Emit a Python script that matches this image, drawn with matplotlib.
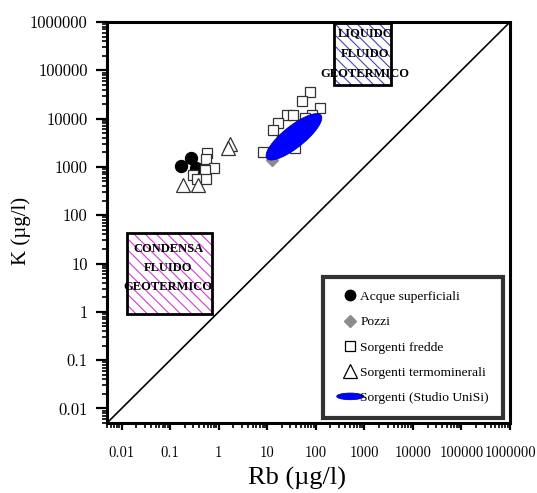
import numpy as np
import matplotlib
matplotlib.use("Agg")
import matplotlib.pyplot as plt
import matplotlib.patches as mpatches
from matplotlib.lines import Line2D
from matplotlib.legend_handler import HandlerPatch
from matplotlib.ticker import LogLocator, NullFormatter

plt.rcParams["hatch.linewidth"] = 0.8

# ---- data (Rb, K in ug/l) ----
acque_rb = [0.166, 0.274, 0.347]
acque_k = [1070, 1520, 940]

pozzi_rb = [12.4]
pozzi_k = [1380]

fredde_rb = [0.585, 0.557, 0.804, 0.516, 0.296, 0.364, 0.557,
             74.2, 51.7, 123, 25.4, 34.7, 83.1, 17.0, 13.4, 8.35, 37.6, 20.3, 60.4]
fredde_k = [1955, 1468, 942, 844, 665, 565, 565,
            35900, 23400, 16300, 11800, 11800, 11800, 7960, 5780, 2050, 2410, 3580, 10200]

termo_rb = [1.69, 1.56, 0.185, 0.376]
termo_k = [3000, 2450, 425, 413]

# Studio UniSi field: ellipse in log10 space (centre, semi-axes in decades, angle in degrees)
unisi_center = (35.4, 4200)
unisi_semi_axes = (0.714, 0.223)
unisi_angle = 38.8

# reference fields (Rb range, K range) and their captions
liquido_rb = (240, 3500)
liquido_k = (5.0e4, 9.5e5)
liquido_text = "LIQUIDO\nFLUIDO\nGEOTERMICO"
liquido_text_pos = (1045, 2.2e5)

condensa_rb = (0.0127, 0.72)
condensa_k = (0.92, 42)
condensa_text = "CONDENSA\nFLUIDO\nGEOTERMICO"
condensa_text_pos = (0.0906, 7.97)

tick_values = [0.01, 0.1, 1, 10, 100, 1000, 10000, 100000, 1000000]
tick_labels = ["0.01", "0.1", "1", "10", "100", "1000", "10000", "100000", "1000000"]
axis_lim = (0.005, 1.0e6)

legend_labels = ["Acque superficiali", "Pozzi", "Sorgenti fredde",
                 "Sorgenti termominerali", "Sorgenti (Studio UniSi)"]

# ---- figure ----
fig = plt.figure(figsize=(5.37, 4.93), dpi=100)
ax = fig.add_axes([107 / 537, 70 / 493, 403 / 537, 401 / 493])
ax.set_xscale("log")
ax.set_yscale("log")
ax.set_xlim(*axis_lim)
ax.set_ylim(*axis_lim)

# 1:1 line
ax.plot(axis_lim, axis_lim, color="black", lw=1.2, zorder=2)

# hatched fields
def field(rb, k, hatch_color, text, text_pos, spacing):
    x0, x1 = rb
    y0, y1 = k
    ax.add_patch(mpatches.Rectangle((x0, y0), x1 - x0, y1 - y0, facecolor="white",
                                    edgecolor=hatch_color, hatch="\\\\\\", lw=0, zorder=3))
    ax.add_patch(mpatches.Rectangle((x0, y0), x1 - x0, y1 - y0, fill=False,
                                    edgecolor="black", lw=2, zorder=4))
    ax.text(*text_pos, text, ha="center", va="center", multialignment="center",
            family="Liberation Serif", fontweight="bold", fontsize=9.0,
            linespacing=spacing, zorder=5)

field(liquido_rb, liquido_k, "#4646b4", liquido_text, liquido_text_pos, 1.95)
field(condensa_rb, condensa_k, "#d23cd2", condensa_text, condensa_text_pos, 1.8)

# samples
ax.plot(acque_rb, acque_k, "o", ms=8.6, color="black", zorder=6)
ax.plot(pozzi_rb, pozzi_k, "D", ms=6, color="#8c8c8c", zorder=6)
ax.plot(fredde_rb, fredde_k, "s", ms=7.5, mfc="white", mec="#333333", mew=0.9, zorder=7)
ax.plot(termo_rb, termo_k, "^", ms=10, mfc="white", mec="#333333", mew=0.9, zorder=8)

t = np.linspace(0, 2 * np.pi, 300)
a, b = unisi_semi_axes
th = np.deg2rad(unisi_angle)
lx = np.log10(unisi_center[0]) + a * np.cos(t) * np.cos(th) - b * np.sin(t) * np.sin(th)
ly = np.log10(unisi_center[1]) + a * np.cos(t) * np.sin(th) + b * np.sin(t) * np.cos(th)
ax.fill(10 ** lx, 10 ** ly, facecolor="#0000ff", edgecolor="#0000aa", lw=0.6, zorder=9)

# axes styling
for sp in ax.spines.values():
    sp.set_linewidth(2.2)
ax.set_xticks(tick_values, tick_labels)
ax.set_yticks(tick_values, tick_labels)
for axis in (ax.xaxis, ax.yaxis):
    axis.set_minor_locator(LogLocator(base=10, subs=np.arange(2, 10), numticks=50))
    axis.set_minor_formatter(NullFormatter())
ax.tick_params(axis="x", which="major", direction="out", length=5, width=1.6, pad=12,
               labelsize=10.6, labelfontfamily="cmr10")
ax.tick_params(axis="y", which="major", direction="out", length=8, width=1.6, pad=6,
               labelsize=12, labelfontfamily="cmr10")
ax.tick_params(which="minor", direction="out", length=3.5, width=1.2)

ax.set_xlabel("Rb (µg/l)", family="Liberation Serif", fontsize=19, va="center")
ax.set_ylabel("K (µg/l)", family="Liberation Serif", fontsize=15, va="center")
ax.xaxis.set_label_coords((297 - 107) / 403, (423 - 478) / 401)
ax.yaxis.set_label_coords((21 - 107) / 403, (423 - 231) / 401)

# legend
class HandlerEllipse(HandlerPatch):
    def create_artists(self, legend, orig_handle, xdescent, ydescent, width, height,
                       fontsize, trans):
        center = (0.5 * width - 0.5 * xdescent, 0.5 * height - 0.5 * ydescent)
        p = mpatches.Ellipse(xy=center, width=width + xdescent, height=0.7 * height)
        self.update_prop(p, orig_handle, legend)
        p.set_transform(trans)
        return [p]

handles = [
    Line2D([], [], ls="none", marker="o", ms=7.5, color="black"),
    Line2D([], [], ls="none", marker="D", ms=6, color="#8c8c8c"),
    Line2D([], [], ls="none", marker="s", ms=7.5, mfc="white", mec="black", mew=0.9),
    Line2D([], [], ls="none", marker="^", ms=9.5, mfc="white", mec="black", mew=0.9),
    mpatches.Patch(facecolor="#0000ff", edgecolor="#0000aa", lw=0.6),
]
leg = ax.legend(handles, legend_labels, loc="upper left",
                bbox_to_anchor=((323 - 107) / 403, (423 - 277) / 401),
                prop={"family": "Liberation Serif", "size": 9.7},
                frameon=True, fancybox=False, borderpad=1.02, labelspacing=0.95,
                handlelength=2.0, handletextpad=-0.25, borderaxespad=0,
                handler_map={mpatches.Patch: HandlerEllipse()})
leg.get_frame().set_edgecolor("black")
leg.get_frame().set_linewidth(3)
leg.set_zorder(20)

fig.savefig("out.png", dpi=100)
